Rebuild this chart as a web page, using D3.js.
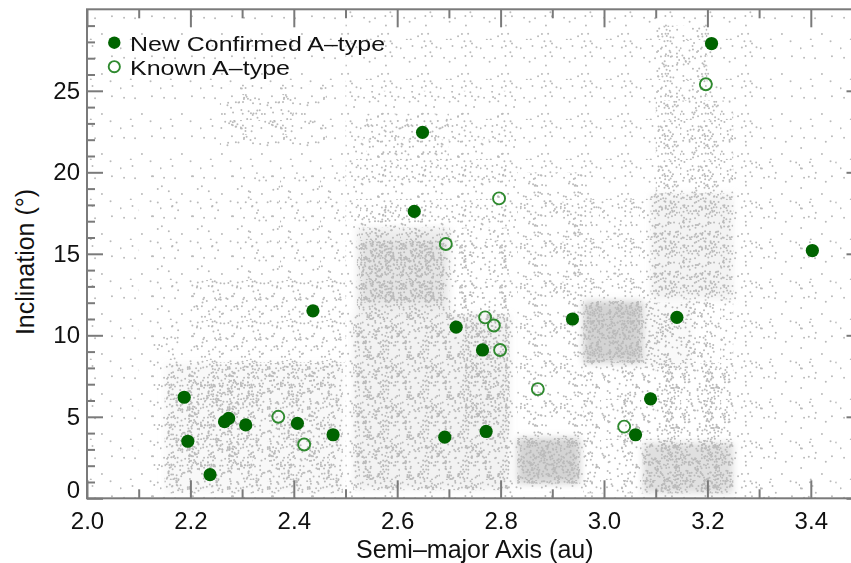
<!DOCTYPE html>
<html>
<head>
<meta charset="utf-8">
<script src="https://cdn.jsdelivr.net/npm/d3@7/dist/d3.min.js"></script>
<style>
  html, body { margin: 0; padding: 0; background: #ffffff; }
  svg text { font-family: "Liberation Sans", Arial, Helvetica, sans-serif; fill: #111; }
</style>
</head>
<body>
<svg id="chart" width="851" height="563"></svg>
<script>
// ---------------- data ----------------
// New confirmed A-type asteroids (semi-major axis au, inclination deg)
const newA = [2.188, 2.195, 2.238, 2.266, 2.274, 2.307, 2.407, 2.476, 2.437, 2.633, 2.649,
              2.692, 2.714, 2.765, 2.772, 2.939, 3.090, 3.061, 3.141, 3.208, 3.403];
const newI = [6.2, 3.5, 1.45, 4.7, 4.9, 4.5, 4.6, 3.9, 11.5, 17.6, 22.45,
              3.75, 10.5, 9.1, 4.1, 11.0, 6.1, 3.9, 11.1, 27.9, 15.2];
// Known A-type asteroids
const knownA = [2.370, 2.420, 2.797, 2.694, 2.770, 2.787, 2.799, 2.872, 3.039, 3.197];
const knownI = [5.0, 3.3, 18.4, 15.6, 11.1, 10.6, 9.1, 6.7, 4.4, 25.4];

// Background asteroid population, summarised as density regions
// (a range in au, i range in deg, relative density = dots per 400 px^2)
const regionA0 = [2.00, 2.10, 2.50, 2.50,
                  2.15, 2.18, 2.24, 2.35, 2.20, 2.30, 2.257, 2.27, 2.12,
                  2.515, 2.515, 2.728, 2.522, 2.53, 2.702, 2.515, 2.54, 2.522,
                  2.832, 2.832, 2.96, 3.00, 3.10, 2.96, 3.075, 3.075, 2.92, 3.09, 3.10, 3.10, 3.25, 3.17];
const regionA1 = [3.50, 2.50, 3.30, 2.83,
                  2.495, 2.32, 2.47, 2.47, 2.50, 2.50, 2.464, 2.40, 2.20,
                  2.818, 2.58, 2.818, 2.702, 2.69, 2.818, 2.818, 2.70, 2.65,
                  2.96, 2.954, 3.25, 3.10, 3.25, 3.075, 3.17, 3.25, 3.10, 3.25, 3.25, 3.20, 3.45, 3.25];
const regionI0 = [0, 0, 0, 15,
                  0.3, 1.6, 5.8, 1.0, 8.3, 13.4, 21.5, 22.3, 0.5,
                  0.5, 1.0, 4.5, 11.3, 12.0, 11.3, 16.6, 20.7, 16.6,
                  3.7, 0.9, 0.3, 3.4, 3.4, 8.3, 8.0, 0.3, 12.1, 12.2, 18.7, 24.4, 0, 8.3];
const regionI1 = [30, 20, 30, 25,
                  8.3, 7.3, 8.3, 5.0, 13.4, 20, 25.4, 24.8, 10,
                  11.3, 11.0, 11.3, 16.6, 15.8, 16.6, 22, 23.6, 18,
                  20, 3.7, 8.3, 8.0, 8.3, 12.1, 12.0, 3.4, 18.4, 18.7, 24.4, 29, 22, 12.2];
const regionDensity = [2, 2, 3, 3,
                       21, 14, 11, 7, 9, 3, 5, 7, 3,
                       26, 8, 15, 30, 26, 12, 5, 6, 6,
                       9, 50, 9, 4, 13, 55, 20, 40, 7, 25, 15, 12, 2, 12];

const xTickValues = [2.0, 2.2, 2.4, 2.6, 2.8, 3.0, 3.2, 3.4];
const xTickLabels = ["2.0", "2.2", "2.4", "2.6", "2.8", "3.0", "3.2", "3.4"];
const xMinorTicks = [2.1, 2.3, 2.5, 2.7, 2.9, 3.1, 3.3];
const yTickValues = [0, 5, 10, 15, 20, 25];
const yTickLabels = ["0", "5", "10", "15", "20", "25"];
const yMinorTicks = [1,2,3,4,6,7,8,9,11,12,13,14,16,17,18,19,21,22,23,24,26,27,28,29];

const legendLabels = ["New Confirmed A\u2013type", "Known A\u2013type"];
const xTitle = "Semi\u2013major Axis (au)";
const yTitle = "Inclination (\u00B0)";

// ---------------- layout ----------------
const W = 851, H = 563;
const plot = { left: 87, right: 862.5, top: 9.3, bottom: 498.3 };
const x = d3.scaleLinear().domain([2.0, 3.5]).range([plot.left, plot.right]);
const y = d3.scaleLinear().domain([0, 30]).range([plot.bottom, plot.top]);

const svg = d3.select("#chart");
const defs = svg.append("defs");
defs.append("clipPath").attr("id", "plotclip")
  .append("rect").attr("x", plot.left).attr("y", plot.top)
  .attr("width", plot.right - plot.left).attr("height", plot.bottom - plot.top);
defs.append("filter").attr("id", "soft").attr("x", "-20%").attr("y", "-20%")
  .attr("width", "140%").attr("height", "140%")
  .append("feGaussianBlur").attr("stdDeviation", 3.5);

// ---------------- background population (texture) ----------------
const TILE = 40;            // pattern tile, px
const AREA_UNIT = 400;      // density is dots per 400 px^2
// deterministic hash used only to scatter texture dots inside a pattern tile
const hash = (n) => { const s = Math.sin(n * 12.9898 + 78.233) * 43758.5453; return s - Math.floor(s); };
const bgBase = svg.append("g").attr("clip-path", "url(#plotclip)");
const bgBaseInner = bgBase.append("g").attr("filter", "url(#soft)");
const bgDots = svg.append("g").attr("clip-path", "url(#plotclip)");
const regions = regionA0.map((a0, k) => ({
  a0, a1: regionA1[k], i0: regionI0[k], i1: regionI1[k], d: regionDensity[k], k
}));
regions.forEach(r => {
  const pid = "dots" + r.k;
  const pat = defs.append("pattern").attr("id", pid)
    .attr("patternUnits", "userSpaceOnUse")
    .attr("width", TILE).attr("height", TILE);
  const count = Math.round(r.d * TILE * TILE / AREA_UNIT);
  const seed = (r.k + 1) * 1000;
  for (let n = 0; n < count; n++) {
    pat.append("circle")
      .attr("cx", hash(seed + 2 * n) * TILE)
      .attr("cy", hash(seed + 2 * n + 1) * TILE)
      .attr("r", 1.0).attr("fill", "#bababa");
  }
  const rx = x(r.a0), ry = y(r.i1), rw = x(r.a1) - x(r.a0), rh = y(r.i0) - y(r.i1);
  if (r.d >= 20) {
    bgBaseInner.append("rect").attr("x", rx).attr("y", ry).attr("width", rw).attr("height", rh)
      .attr("fill", "#c8c8c8").attr("opacity", Math.min(0.8, (r.d - 15) / 45));
  }
  bgDots.append("rect").attr("x", rx).attr("y", ry).attr("width", rw).attr("height", rh)
    .attr("fill", "url(#" + pid + ")");
});

// ---------------- frame & ticks ----------------
const axisColor = "#7a7a7a";
svg.append("rect").attr("x", plot.left).attr("y", plot.top)
  .attr("width", plot.right - plot.left).attr("height", plot.bottom - plot.top)
  .attr("fill", "none").attr("stroke", axisColor).attr("stroke-width", 2);

function styleAxis(g) {
  g.select(".domain").remove();
  g.selectAll(".tick line").attr("stroke", axisColor).attr("stroke-width", 2);
}
const fmtX = d => xTickLabels[xTickValues.indexOf(d)];
const fmtY = d => yTickLabels[yTickValues.indexOf(d)];

// bottom
svg.append("g").attr("transform", `translate(0,${plot.bottom})`)
  .call(d3.axisBottom(x).tickValues(xTickValues).tickSize(-18).tickPadding(14).tickFormat(fmtX))
  .call(styleAxis)
  .call(g => g.selectAll("text").attr("font-size", 24).attr("fill", "#111"));
svg.append("g").attr("transform", `translate(0,${plot.bottom})`)
  .call(d3.axisBottom(x).tickValues(xMinorTicks).tickSize(-9).tickFormat(""))
  .call(styleAxis);
// top
svg.append("g").attr("transform", `translate(0,${plot.top})`)
  .call(d3.axisTop(x).tickValues(xTickValues).tickSize(-18).tickFormat(""))
  .call(styleAxis);
svg.append("g").attr("transform", `translate(0,${plot.top})`)
  .call(d3.axisTop(x).tickValues(xMinorTicks).tickSize(-9).tickFormat(""))
  .call(styleAxis);
// left
svg.append("g").attr("transform", `translate(${plot.left},0)`)
  .call(d3.axisLeft(y).tickValues(yTickValues).tickSize(-16).tickPadding(7).tickFormat(fmtY))
  .call(styleAxis)
  .call(g => g.selectAll("text").attr("font-size", 24).attr("fill", "#111")
    .attr("dy", d => d === 0 ? "-0.05em" : "0.32em"));
svg.append("g").attr("transform", `translate(${plot.left},0)`)
  .call(d3.axisLeft(y).tickValues(yMinorTicks).tickSize(-8).tickFormat(""))
  .call(styleAxis);
// right
svg.append("g").attr("transform", `translate(${plot.right},0)`)
  .call(d3.axisRight(y).tickValues(yTickValues).tickSize(-16).tickFormat(""))
  .call(styleAxis);
svg.append("g").attr("transform", `translate(${plot.right},0)`)
  .call(d3.axisRight(y).tickValues(yMinorTicks).tickSize(-8).tickFormat(""))
  .call(styleAxis);

// ---------------- markers ----------------
const filledColor = "#006400";
const openColor = "#2f8a2f";
const marks = svg.append("g").attr("clip-path", "url(#plotclip)");
marks.selectAll("circle.known").data(knownA.map((a, k) => [a, knownI[k]]))
  .join("circle").attr("class", "known")
  .attr("cx", d => x(d[0])).attr("cy", d => y(d[1])).attr("r", 6)
  .attr("fill", "none").attr("stroke", openColor).attr("stroke-width", 1.9);
marks.selectAll("circle.newc").data(newA.map((a, k) => [a, newI[k]]))
  .join("circle").attr("class", "newc")
  .attr("cx", d => x(d[0])).attr("cy", d => y(d[1])).attr("r", 6.6)
  .attr("fill", filledColor);

// ---------------- legend ----------------
const leg = svg.append("g");
leg.append("circle").attr("cx", 114.3).attr("cy", 42.7).attr("r", 6.2).attr("fill", filledColor);
leg.append("text").attr("x", 130).attr("y", 50.5).attr("font-size", 20.5)
  .attr("textLength", 255).attr("lengthAdjust", "spacingAndGlyphs").text(legendLabels[0]);
leg.append("circle").attr("cx", 114.3).attr("cy", 66.7).attr("r", 5.6)
  .attr("fill", "#fff").attr("stroke", openColor).attr("stroke-width", 1.9);
leg.append("text").attr("x", 130).attr("y", 74.5).attr("font-size", 20.5)
  .attr("textLength", 160).attr("lengthAdjust", "spacingAndGlyphs").text(legendLabels[1]);

// ---------------- titles ----------------
svg.append("text").attr("x", (plot.left + plot.right) / 2).attr("y", 558)
  .attr("text-anchor", "middle").attr("font-size", 25).text(xTitle);
svg.append("text").attr("transform", "translate(34,262) rotate(-90)")
  .attr("text-anchor", "middle").attr("font-size", 25).text(yTitle);
</script>
</body>
</html>
